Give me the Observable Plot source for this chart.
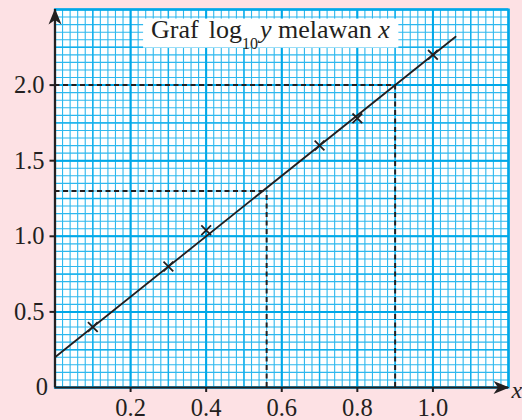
<!DOCTYPE html>
<html><head><meta charset="utf-8">
<script src="https://cdn.jsdelivr.net/npm/d3@7"></script>
<script src="https://cdn.jsdelivr.net/npm/@observablehq/plot@0.6"></script>
<style>
html,body{margin:0;padding:0;background:#fde1e4;overflow:hidden;}
#chart svg{display:block;}
</style></head><body><div id="chart"></div>
<script>
// ---- data ----
const xValues = [0.1, 0.3, 0.4, 0.7, 0.8, 1.0];
const log10yValues = [0.4, 0.8, 1.04, 1.6, 1.78, 2.2];
const fitLineX = [0, 1.06];
const fitLineY = [0.2, 2.32];
const readOffX = [0.56, 0.9];
const readOffY = [1.3, 2.0];
const xTicks = [0.2, 0.4, 0.6, 0.8, 1.0];
const yTicks = [0.5, 1.0, 1.5, 2.0];
const xDomain = [0, 1.2];
const yDomain = [0, 2.5];
const titlePos = {x: 0.2556, y: 2.311};

// graph-paper grid lines
const minorX = d3.range(0, 61).map(i => +(i * 0.02).toFixed(2));
const mediumX = d3.range(0, 13).map(i => +(i * 0.1).toFixed(2));
const majorX = d3.range(0, 7).map(i => +(i * 0.2).toFixed(2));
const minorY = d3.range(0, 51).map(i => +(i * 0.05).toFixed(2));
const mediumY = d3.range(0, 11).map(i => +(i * 0.25).toFixed(2));
const majorY = d3.range(0, 6).map(i => +(i * 0.5).toFixed(2));

const ink = "#231f20";
const font = "Liberation Serif";

const points = xValues.map((x, i) => ({x, y: log10yValues[i]}));
const fit = fitLineX.map((x, i) => ({x, y: fitLineY[i]}));
const reads = readOffX.map((x, i) => ({x, y: readOffY[i]}));

const arrowHead = {
  draw(ctx) {
    ctx.moveTo(0, -1);
    ctx.lineTo(6.5, 15);
    ctx.lineTo(0, 10.5);
    ctx.lineTo(-6.5, 15);
    ctx.closePath();
  }
};

const plot = Plot.plot({
  width: 522,
  height: 420,
  marginLeft: 54.5,
  marginRight: 14,
  marginTop: 9,
  marginBottom: 33,
  x: {domain: xDomain, axis: null},
  y: {domain: yDomain, axis: null},
  style: {fontFamily: font, background: "transparent", overflow: "visible"},
  marks: [
    Plot.frame({fill: "white", stroke: null}),
    Plot.ruleX(minorX, {stroke: "#2db8ee", strokeWidth: 1.1}),
    Plot.ruleY(minorY, {stroke: "#2db8ee", strokeWidth: 1.1}),
    Plot.ruleX(mediumX, {stroke: "#12b0ec", strokeWidth: 1.4}),
    Plot.ruleY(mediumY, {stroke: "#12b0ec", strokeWidth: 1.4}),
    Plot.ruleX(majorX, {stroke: "#00a8e8", strokeWidth: 2}),
    Plot.ruleY(majorY, {stroke: "#00a8e8", strokeWidth: 2}),
    Plot.frame({stroke: "#00a8e8", strokeWidth: 2.2}),
    Plot.ruleY(reads, {y: "y", x1: () => 0, x2: "x", stroke: ink, strokeWidth: 2, strokeDasharray: "5,3.5"}),
    Plot.ruleX(reads, {x: "x", y1: () => 0, y2: "y", stroke: ink, strokeWidth: 2, strokeDasharray: "5,3.5"}),
    Plot.line(fit, {x: "x", y: "y", stroke: ink, strokeWidth: 1.8}),
    Plot.dot(points, {x: "x", y: "y", symbol: "times", r: 4.5, stroke: ink, strokeWidth: 1.8}),
    Plot.ruleX([0], {y1: yDomain[0], y2: yDomain[1], stroke: ink, strokeWidth: 2.2}),
    Plot.ruleY([0], {x1: xDomain[0], x2: xDomain[1], stroke: ink, strokeWidth: 2.2}),
    Plot.dot([{x: xDomain[0], y: yDomain[1]}], {x: "x", y: "y", symbol: arrowHead, fill: ink, stroke: null, r: 8}),
    Plot.dot([{x: xDomain[1], y: yDomain[0]}], {x: "x", y: "y", symbol: arrowHead, fill: ink, stroke: null, r: 8, rotate: 90}),
    Plot.axisX(xTicks, {tickSize: 5, tickPadding: 6, tickFormat: d => d.toFixed(1), fontSize: 24.5, fontFamily: font, color: ink, strokeWidth: 2, label: null}),
    Plot.axisY(yTicks, {tickSize: 5, tickPadding: 5.5, tickFormat: d => d.toFixed(1), fontSize: 24.5, fontFamily: font, color: ink, strokeWidth: 2, label: null}),
    Plot.text([{x: 0, y: 0, t: "0"}], {x: "x", y: "y", text: "t", dx: -7, textAnchor: "end", fontSize: 24.5, fontFamily: font, fill: ink}),
    Plot.text([{x: xDomain[1], y: 0, t: "x"}], {x: "x", y: "y", text: "t", dx: 3, dy: 3, textAnchor: "start", fontSize: 24, fontStyle: "italic", fontFamily: font, fill: ink})
  ]
});

document.getElementById("chart").append(plot);

// Title with subscript, on a white box over the grid
const sx = plot.scale("x"), sy = plot.scale("y");
const svg = d3.select(plot);
const g = svg.append("g");
const box = g.append("rect").attr("fill", "white");
const t = g.append("text")
  .attr("x", sx.apply(titlePos.x))
  .attr("y", sy.apply(titlePos.y))
  .attr("text-anchor", "start")
  .attr("font-family", font)
  .attr("font-size", 26)
  .attr("fill", ink);
t.append("tspan").text("Graf");
t.append("tspan").attr("dx", 10).text("log");
t.append("tspan").attr("font-size", 16).attr("dy", 11).text("10");
t.append("tspan").attr("font-style", "italic").attr("dy", -11).attr("dx", 2).text("y");
t.append("tspan").text(" melawan ");
t.append("tspan").attr("font-style", "italic").text("x");
const bb = t.node().getBBox();
box.attr("x", bb.x - 8).attr("y", bb.y + 4).attr("width", bb.width + 16).attr("height", bb.height - 8);
</script>
</body></html>
